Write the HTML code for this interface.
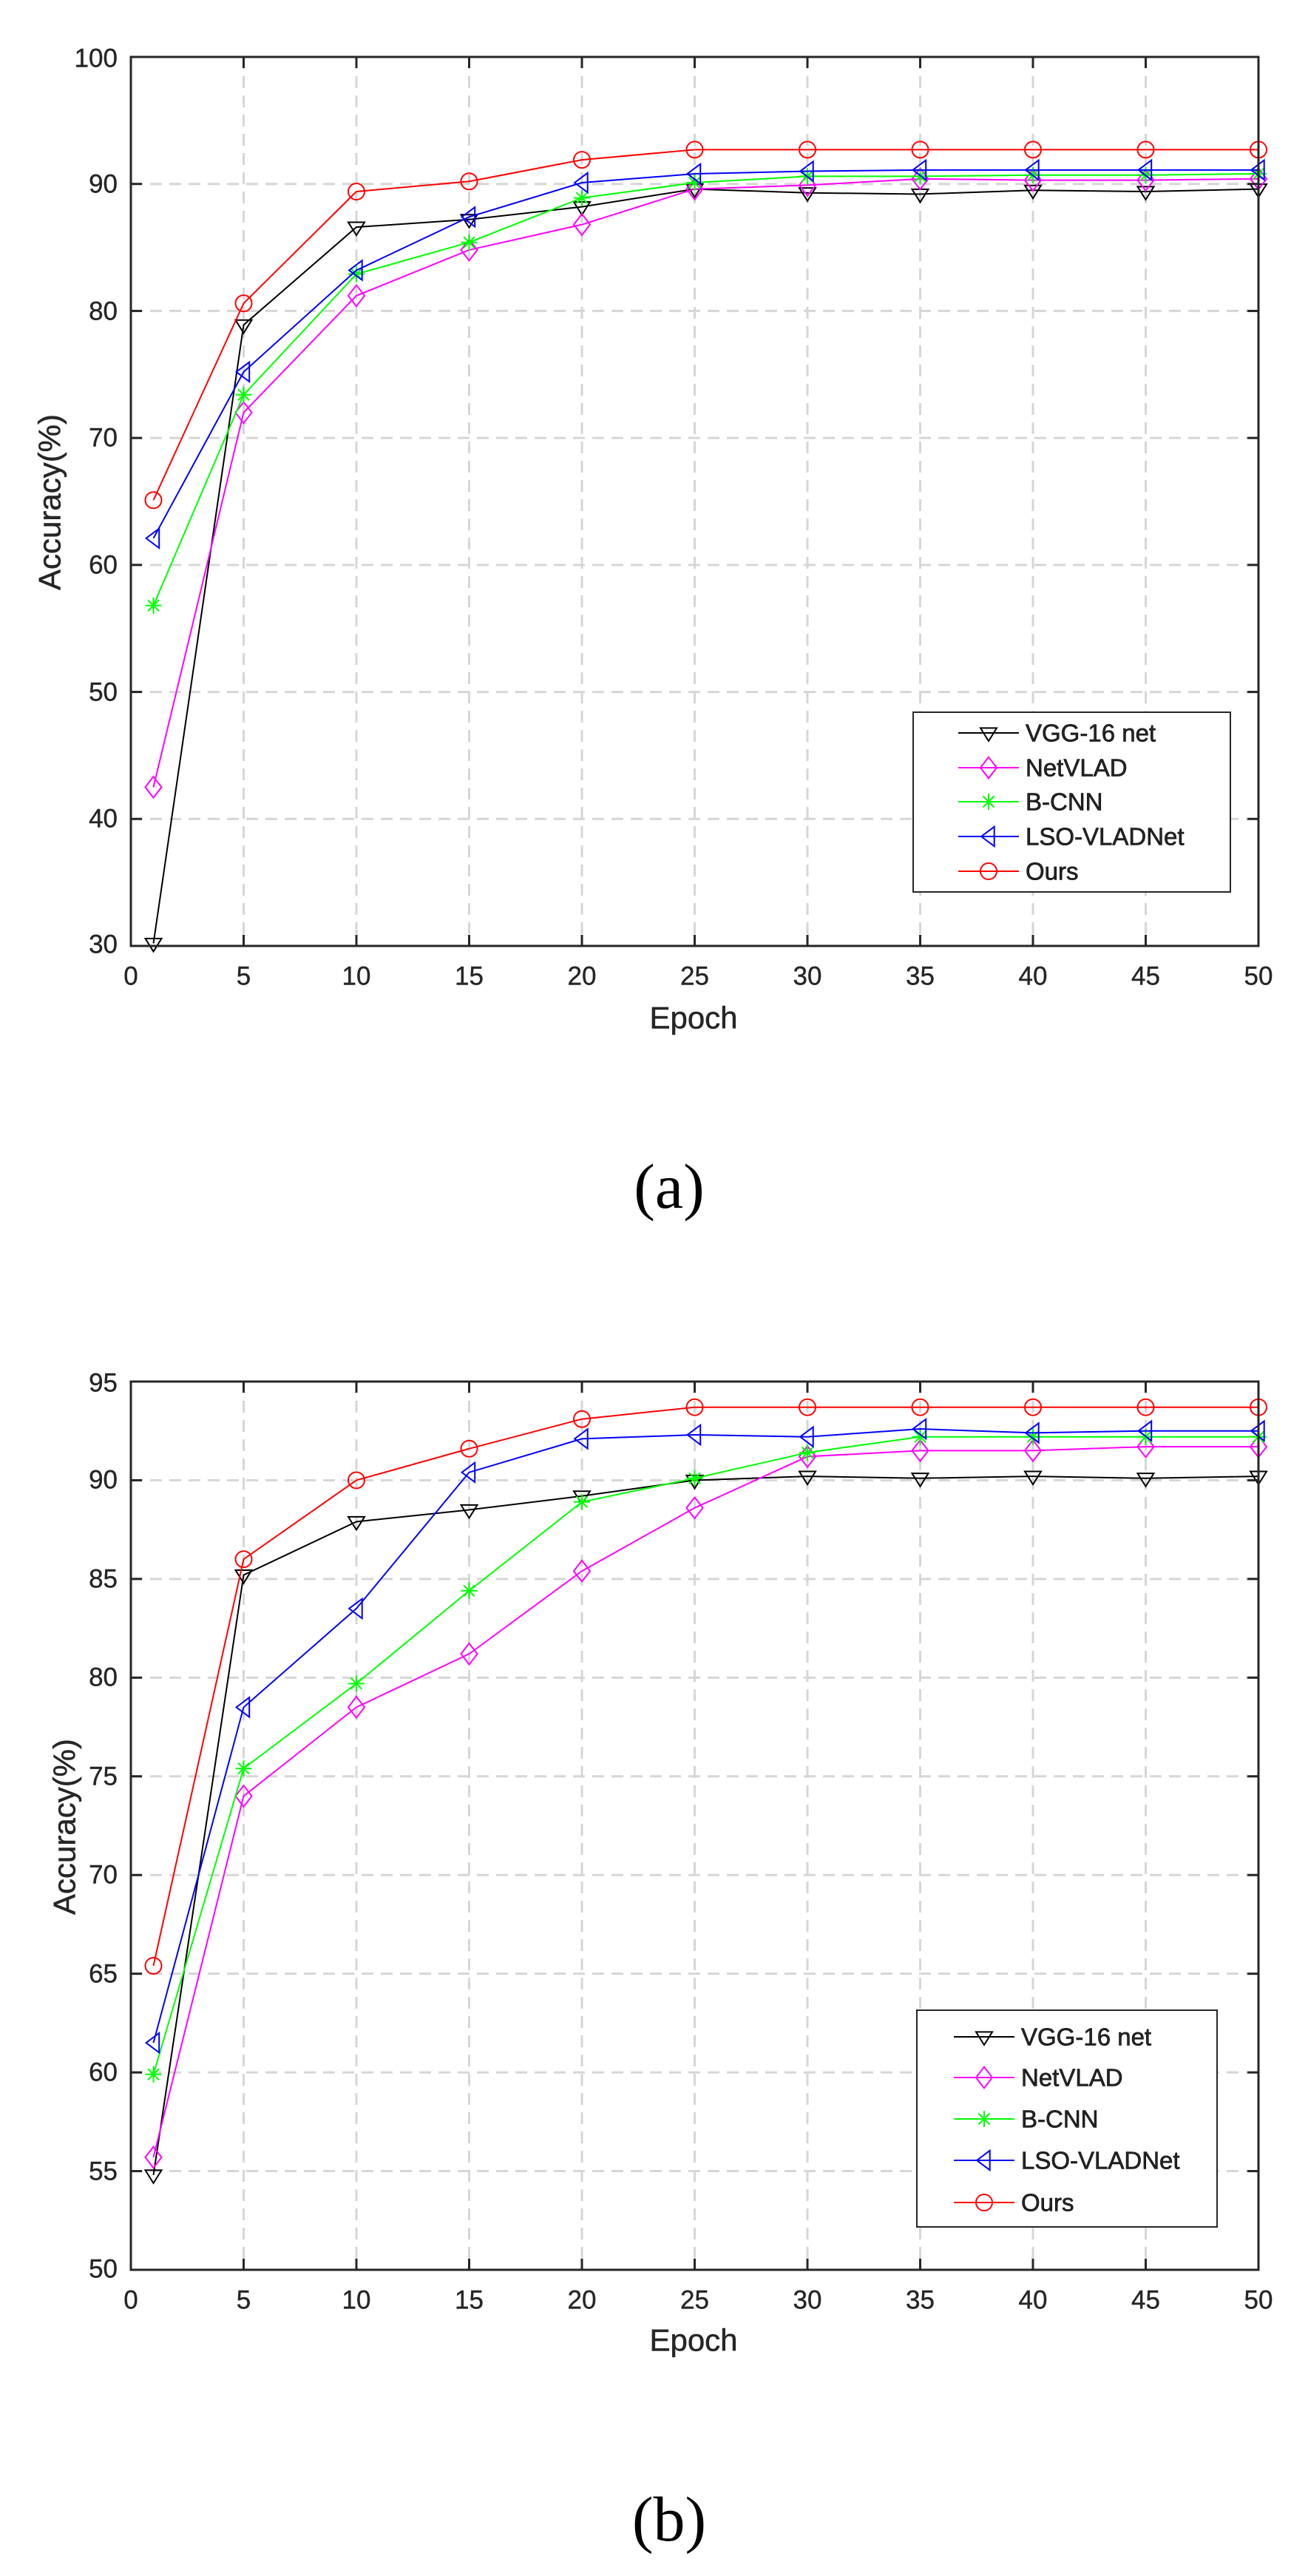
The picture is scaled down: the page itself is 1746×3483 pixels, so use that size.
<!DOCTYPE html>
<html><head><meta charset="utf-8"><style>
html,body{margin:0;padding:0;background:#fff;}
svg{display:block;}
text{font-family:"Liberation Sans",Arial,sans-serif;fill:#262626;}
.tk{font-size:35px;stroke:#262626;stroke-width:0.4px;}
.lb{font-size:42px;stroke:#262626;stroke-width:0.5px;}
.lg{font-size:33px;fill:#000;stroke:#000;stroke-width:0.6px;}
.cap{font-family:"Liberation Serif",serif;font-size:86px;fill:#000;}
</style></head><body>
<svg id="s" width="1746" height="3483" viewBox="0 0 1746 3483" xmlns="http://www.w3.org/2000/svg">
<rect width="1746" height="3483" fill="#fff"/>
<g id="grid"></g>
<g id="series"></g>
<g class="tk" text-anchor="end" dominant-baseline="central">
<text x="159" y="79">100</text><text x="159" y="249">90</text><text x="159" y="421">80</text><text x="159" y="592">70</text>
<text x="159" y="764">60</text><text x="159" y="936">50</text><text x="159" y="1107">40</text><text x="159" y="1277">30</text>
</g>
<g class="tk" text-anchor="middle" dominant-baseline="central">
<text x="177" y="1320">0</text><text x="329.5" y="1320">5</text><text x="482" y="1320">10</text><text x="634.5" y="1320">15</text>
<text x="787" y="1320">20</text><text x="939.5" y="1320">25</text><text x="1092" y="1320">30</text><text x="1244.5" y="1320">35</text>
<text x="1397" y="1320">40</text><text x="1549.5" y="1320">45</text><text x="1702" y="1320">50</text>
</g>
<text class="lb" x="938" y="1376" text-anchor="middle" dominant-baseline="central">Epoch</text>
<text class="lb" x="67" y="679" text-anchor="middle" dominant-baseline="central" transform="rotate(-90 67 679)">Accuracy(%)</text>
<text class="cap" x="905" y="1633" text-anchor="middle">(a)</text>
<g class="tk" text-anchor="end" dominant-baseline="central">
<text x="159" y="1870">95</text><text x="159" y="2001">90</text><text x="159" y="2135">85</text><text x="159" y="2268">80</text>
<text x="159" y="2402">75</text><text x="159" y="2535">70</text><text x="159" y="2669">65</text><text x="159" y="2802">60</text>
<text x="159" y="2936">55</text><text x="159" y="3068">50</text>
</g>
<g class="tk" text-anchor="middle" dominant-baseline="central">
<text x="177" y="3110">0</text><text x="329.5" y="3110">5</text><text x="482" y="3110">10</text><text x="634.5" y="3110">15</text>
<text x="787" y="3110">20</text><text x="939.5" y="3110">25</text><text x="1092" y="3110">30</text><text x="1244.5" y="3110">35</text>
<text x="1397" y="3110">40</text><text x="1549.5" y="3110">45</text><text x="1702" y="3110">50</text>
</g>
<text class="lb" x="938" y="3164" text-anchor="middle" dominant-baseline="central">Epoch</text>
<text class="lb" x="87" y="2470" text-anchor="middle" dominant-baseline="central" transform="rotate(-90 87 2470)">Accuracy(%)</text>
<text class="cap" x="905" y="3435" text-anchor="middle">(b)</text>
<rect x="1235" y="963" width="429" height="243" fill="#fff" stroke="#262626" stroke-width="2"/>
<g class="lg" dominant-baseline="central">
<text x="1387" y="991">VGG-16 net</text><text x="1387" y="1038">NetVLAD</text><text x="1387" y="1084">B-CNN</text>
<text x="1387" y="1131">LSO-VLADNet</text><text x="1387" y="1178">Ours</text>
</g>
<rect x="1240" y="2718" width="406" height="293" fill="#fff" stroke="#262626" stroke-width="2"/>
<g class="lg" dominant-baseline="central">
<text x="1381" y="2754">VGG-16 net</text><text x="1381" y="2809">NetVLAD</text><text x="1381" y="2865">B-CNN</text>
<text x="1381" y="2921">LSO-VLADNet</text><text x="1381" y="2978">Ours</text>
</g>
<g id="leg"></g>
<g id="axes"></g>
</svg>
<script>
var NS="http://www.w3.org/2000/svg";
function el(p,t,a){var e=document.createElementNS(NS,t);for(var k in a)e.setAttribute(k,a[k]);p.appendChild(e);return e;}
var G=document.getElementById('grid'),S=document.getElementById('series'),L=document.getElementById('leg'),A=document.getElementById('axes');
var xs=[1,5,10,15,20,25,30,35,40,45,50];
var cols=['#000','#ff00ff','#00ff00','#0000ff','#ff0000'];
function X(v){return 177+v*30.5;}
function marker(p,k,x,y,c){
 var r=11,st={fill:'none',stroke:c,'stroke-width':2};
 if(k==0){st.points=(x-r)+','+(y-r*0.6)+' '+(x+r)+','+(y-r*0.6)+' '+x+','+(y+r*1.0);el(p,'polygon',st);}
 else if(k==1){st.points=x+','+(y-r*1.3)+' '+(x+r)+','+y+' '+x+','+(y+r*1.3)+' '+(x-r)+','+y;el(p,'polygon',st);}
 else if(k==2){var d='M'+(x-r)+' '+y+'H'+(x+r)+'M'+x+' '+(y-r)+'V'+(y+r)+'M'+(x-7.5)+' '+(y-7.5)+'L'+(x+7.5)+' '+(y+7.5)+'M'+(x-7.5)+' '+(y+7.5)+'L'+(x+7.5)+' '+(y-7.5);st.d=d;el(p,'path',st);}
 else if(k==3){st.points=(x-r*0.9)+','+y+' '+(x+r*0.7)+','+(y-r*1.2)+' '+(x+r*0.7)+','+(y+r*1.2);el(p,'polygon',st);}
 else {st.cx=x;st.cy=y;st.r=r;el(p,'circle',st);}
}
function chart(top,bot,vmin,vmax,step,data,legx,legy){
 var Y=function(v){return top+(vmax-v)*(bot-top)/(vmax-vmin);};
 for(var v=5;v<50;v+=5){el(G,'line',{x1:X(v),x2:X(v),y1:top,y2:bot,stroke:'#d6d6d6','stroke-width':3,'stroke-dasharray':'16 10'});}
 for(var v=vmin+step;v<vmax;v+=step){el(G,'line',{x1:177,x2:1702,y1:Y(v),y2:Y(v),stroke:'#d6d6d6','stroke-width':3,'stroke-dasharray':'16 10'});}
 data.forEach(function(d,k){
  var pts=d.map(function(v,i){return X(xs[i])+','+Y(v);}).join(' ');
  el(S,'polyline',{points:pts,fill:'none',stroke:cols[k],'stroke-width':2});
  d.forEach(function(v,i){marker(S,k,X(xs[i]),Y(v),cols[k]);});
  el(L,'line',{x1:legx-41,x2:legx+41,y1:legy[k],y2:legy[k],stroke:cols[k],'stroke-width':2});
  marker(L,k,legx,legy[k],cols[k]);
 });
 el(A,'rect',{x:177,y:top,width:1525,height:bot-top,fill:'none',stroke:'#262626','stroke-width':3});
 for(var v=0;v<=50;v+=5){el(A,'line',{x1:X(v),x2:X(v),y1:bot,y2:bot-15,stroke:'#262626','stroke-width':3});el(A,'line',{x1:X(v),x2:X(v),y1:top,y2:top+15,stroke:'#262626','stroke-width':3});}
 for(var v=vmin;v<=vmax;v+=step){el(A,'line',{x1:177,x2:192,y1:Y(v),y2:Y(v),stroke:'#262626','stroke-width':3});el(A,'line',{x1:1702,x2:1687,y1:Y(v),y2:Y(v),stroke:'#262626','stroke-width':3});}
}
chart(77,1279,30,100,10,[
[30.2,78.9,86.6,87.2,88.2,89.6,89.3,89.2,89.5,89.4,89.6],
[42.5,72.0,81.2,84.8,86.8,89.6,89.9,90.4,90.3,90.3,90.4],
[56.8,73.4,82.9,85.4,88.9,90.1,90.6,90.6,90.7,90.7,90.8],
[62.1,75.2,83.2,87.4,90.1,90.8,91.0,91.1,91.1,91.1,91.1],
[65.1,80.6,89.4,90.2,91.9,92.7,92.7,92.7,92.7,92.7,92.7]],1337,[991,1038,1084,1131,1178]);
chart(1868,3069,50,95,5,[
[54.8,85.2,87.9,88.5,89.2,90.0,90.2,90.1,90.2,90.1,90.2],
[55.7,74.0,78.5,81.2,85.4,88.6,91.2,91.5,91.5,91.7,91.7],
[59.9,75.4,79.7,84.4,88.9,90.1,91.4,92.2,92.2,92.2,92.2],
[61.5,78.5,83.5,90.4,92.1,92.3,92.2,92.6,92.4,92.5,92.5],
[65.4,86.0,90.0,91.6,93.1,93.7,93.7,93.7,93.7,93.7,93.7]],1331,[2754,2809,2865,2921,2978]);
</script>
</body></html>
